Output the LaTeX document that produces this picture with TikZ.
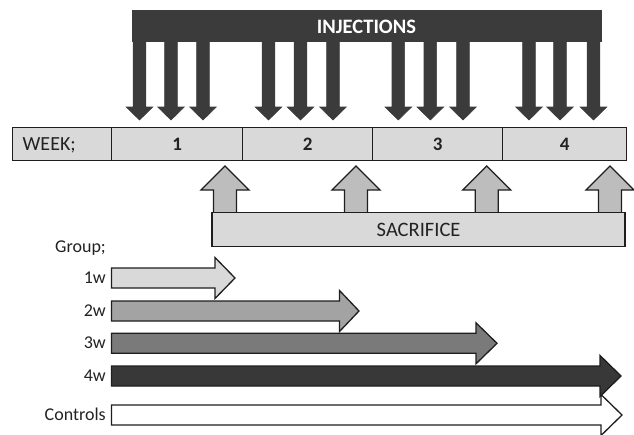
\documentclass[tikz,border=0pt]{standalone}
\usepackage{fontspec}
\setmainfont{Carlito}
\definecolor{injc}{HTML}{3B3B3B}
\definecolor{edge}{HTML}{1E1E1E}
\definecolor{lightg}{HTML}{D9D9D9}
\definecolor{sacg}{HTML}{BDBDBD}
\definecolor{g2}{HTML}{A3A3A3}
\definecolor{g3}{HTML}{7A7A7A}
\definecolor{g4}{HTML}{383838}
\definecolor{txt}{HTML}{222222}
\begin{document}
\begin{tikzpicture}[x=1pt,y=-1pt,line join=miter,
  outl/.style={draw=edge,line width=1.3pt},
  cell/.style={outl,fill=lightg,inner sep=0pt,minimum height=33pt},
  big/.style={font=\fontsize{20}{22}\selectfont,text=txt,inner sep=0pt},
  lab/.style={font=\fontsize{18}{20}\selectfont,text=txt,inner sep=0pt},
  injfill/.style={fill=injc,draw=injc,line width=0.6pt}]
\useasboundingbox (0,0) rectangle (634,434);

% injections bar and arrows
\fill[injfill] (132,10) rectangle (601,41);
\foreach \x in {139.5,171,203,268.5,300.5,333,398.3,430.3,463,529,560,593.5}{
  \fill[injfill] ({\x-6.3},40) -- ({\x+6.3},40) -- ({\x+6.3},107) -- ({\x+13.3},107)
     -- (\x,120) -- ({\x-13.3},107) -- ({\x-6.3},107) -- cycle;
}
\node[font=\bfseries\fontsize{20.5}{22}\selectfont,text=white,inner sep=0pt,anchor=base] (inj) at (366.5,33.3) {INJECTIONS};

% week bar
\node[cell,minimum width=99.2pt] (wk) at (62.1,144) {};
\node[cell,minimum width=131pt] (w1) at (177.2,144) {};
\node[cell,minimum width=129.8pt] (w2) at (307.6,144) {};
\node[cell,minimum width=130.2pt] (w3) at (437.6,144) {};
\node[cell,minimum width=123.8pt] (w4) at (564.6,144) {};
\node[big,anchor=base west] (wklab) at (22.5,150.5) {WEEK;};
\node[big,anchor=base,font=\bfseries\fontsize{19}{22}\selectfont] (n1) at (w1.center |- 0,150.5) {1};
\node[big,anchor=base,font=\bfseries\fontsize{19}{22}\selectfont] (n2) at (w2.center |- 0,150.5) {2};
\node[big,anchor=base,font=\bfseries\fontsize{19}{22}\selectfont] (n3) at (w3.center |- 0,150.5) {3};
\node[big,anchor=base,font=\bfseries\fontsize{19}{22}\selectfont] (n4) at (w4.center |- 0,150.5) {4};

% sacrifice arrows and box
\foreach \x in {225,356,486.7,610}{
  \filldraw[outl,fill=sacg] ({\x-11.5},213) -- ({\x-11.5},190) -- ({\x-24},190) -- (\x,166)
     -- ({\x+24},190) -- ({\x+11.5},190) -- ({\x+11.5},213);
}
\node[cell,minimum width=413pt,minimum height=34.4pt] (sac) at (418.6,229.5) {};
\node[big,anchor=base,font=\fontsize{20.5}{22}\selectfont] (saclab) at (418.6,236.3) {SACRIFICE};

% groups
\node[lab,anchor=base east] (grp) at (106,252.3) {Group;};
\foreach \yc/\base/\tip/\col/\name/\txt in {
    278/215/235/lightg/a1/1w,
    311/339.5/359/g2/a2/2w,
    343.3/476/497/g3/a3/3w,
    376/600/621/g4/a4/4w,
    415/601/622/white/a5/Controls}{
  \filldraw[outl,fill=\col] (111.5,{\yc-10}) -- (\base,{\yc-10}) -- (\base,{\yc-20.5}) -- (\tip,\yc)
     -- (\base,{\yc+20.5}) -- (\base,{\yc+10}) -- (111.5,{\yc+10}) -- cycle;
  \node[lab,anchor=base east] (\name) at (106,{\yc+5.5}) {\txt};
}
\end{tikzpicture}
\end{document}
